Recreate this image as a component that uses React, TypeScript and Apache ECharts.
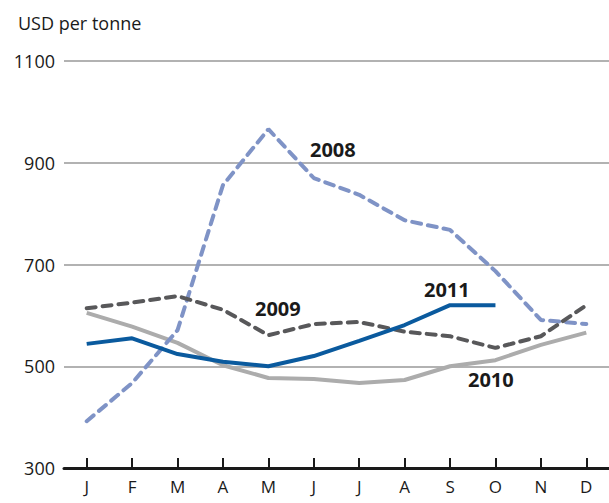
import React, { useEffect, useRef } from "react";
import * as echarts from "echarts";

const months = ["J", "F", "M", "A", "M", "J", "J", "A", "S", "O", "N", "D"];
const yTicks = [300, 500, 700, 900, 1100];
const s2008 = [392, 467, 571, 856, 966, 870, 837, 787, 768, 687, 591, 583];
const s2009 = [614, 625, 638, 611, 561, 583, 587, 568, 559, 536, 559, 620];
const s2010 = [605, 578, 546, 502, 477, 475, 467, 473, 500, 512, 542, 566];
const s2011 = [544, 555, 524, 509, 500, 520, 550, 581, 620, 620, null, null];
const unitLabel = "USD per tonne";
const seriesNames = ["2008", "2009", "2010", "2011"];

const FONT = "'Open Sans', 'Noto Sans', sans-serif";

export default function App() {
  const ref = useRef<HTMLDivElement>(null);
  useEffect(() => {
    if (!ref.current) return;
    const chart = echarts.init(ref.current, undefined, { renderer: "svg" });
    const dashed = (color: string) => ({
      color,
      width: 4,
      type: [9, 7] as any,
      cap: "round" as any,
    });
    chart.setOption({
      animation: false,
      backgroundColor: "#ffffff",
      textStyle: { fontFamily: FONT },
      title: {
        text: unitLabel,
        left: 13,
        top: 9,
        textStyle: { fontFamily: FONT, fontSize: 18, fontWeight: "normal", color: "#1a1a1a" },
      },
      grid: { left: 64, right: -5, top: 61, bottom: 35, containLabel: false },
      xAxis: {
        type: "category",
        data: months,
        boundaryGap: true,
        axisLine: { lineStyle: { color: "#1a1a1a", width: 3 } },
        axisTick: { show: true, inside: true, alignWithLabel: true, length: 10, lineStyle: { color: "#1a1a1a", width: 2 } },
        axisLabel: { color: "#1a1a1a", fontSize: 17, margin: 10, fontFamily: FONT },
      },
      yAxis: {
        type: "value",
        min: yTicks[0],
        max: yTicks[yTicks.length - 1],
        interval: 200,
        axisLine: { show: false },
        axisTick: { show: false },
        axisLabel: {
          color: "#1a1a1a",
          fontSize: 18,
          margin: 9,
          fontFamily: FONT,
          formatter: (v: number) => String(v),
        },
        splitLine: { lineStyle: { color: "#999999", width: 1.5 } },
      },
      series: [
        {
          name: seriesNames[2],
          type: "line",
          data: s2010,
          symbol: "none",
          lineStyle: { color: "#acacac", width: 4 },
          z: 2,
        },
        {
          name: seriesNames[0],
          type: "line",
          data: s2008,
          symbol: "none",
          lineStyle: dashed("#7f93c6"),
          z: 3,
        },
        {
          name: seriesNames[1],
          type: "line",
          data: s2009,
          symbol: "none",
          lineStyle: dashed("#58585a"),
          z: 4,
        },
        {
          name: seriesNames[3],
          type: "line",
          data: s2011,
          symbol: "none",
          lineStyle: { color: "#0a5a9e", width: 4 },
          z: 5,
        },
      ],
      graphic: [
        { type: "text", left: 310, top: 139, style: { text: seriesNames[0], font: `bold 20px ${FONT}`, fill: "#1a1a1a" } },
        { type: "text", left: 255, top: 298, style: { text: seriesNames[1], font: `bold 20px ${FONT}`, fill: "#1a1a1a" } },
        { type: "text", left: 468, top: 369, style: { text: seriesNames[2], font: `bold 20px ${FONT}`, fill: "#1a1a1a" } },
        { type: "text", left: 424, top: 279, style: { text: seriesNames[3], font: `bold 20px ${FONT}`, fill: "#1a1a1a" } },
      ],
    });
    return () => chart.dispose();
  }, []);
  return (
    <div
      ref={ref}
      style={{ position: "fixed", left: 0, top: 0, width: 609, height: 503 }}
    />
  );
}
